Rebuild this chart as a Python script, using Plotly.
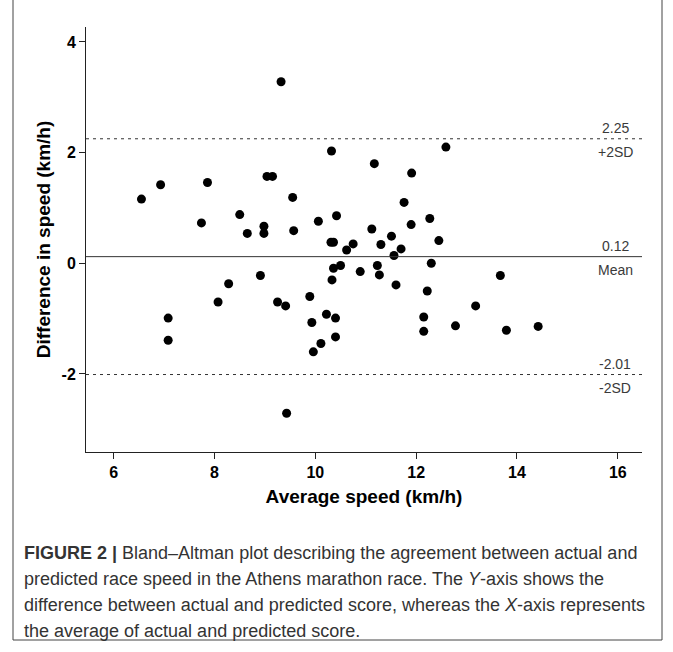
import plotly.graph_objects as go

# ---- data ----
avg_speed = [9.32, 9.04, 9.15, 6.93, 6.55, 7.86, 8.50, 7.74, 8.98, 8.65,
             8.98, 10.32, 11.17, 12.59, 11.91, 9.55, 11.76, 10.06, 10.42, 12.27,
             11.90, 9.57, 11.12, 11.51, 10.31, 10.36, 10.75, 10.62, 11.30, 11.70,
             11.56, 12.45, 10.36, 10.50, 10.89, 11.23, 11.27, 12.30, 10.33, 11.60,
             12.22, 9.25, 9.41, 9.89, 9.93, 10.22, 10.40, 10.40, 10.11, 9.96,
             12.15, 12.15, 12.78, 9.43, 8.28, 8.91, 8.07, 7.08, 7.08, 13.67,
             13.18, 13.79, 14.42]
diff_speed = [3.28, 1.57, 1.57, 1.42, 1.16, 1.46, 0.88, 0.73, 0.67, 0.54,
              0.54, 2.03, 1.80, 2.10, 1.63, 1.19, 1.10, 0.76, 0.86, 0.81,
              0.70, 0.59, 0.62, 0.49, 0.38, 0.38, 0.35, 0.24, 0.34, 0.26,
              0.14, 0.41, -0.09, -0.04, -0.15, -0.04, -0.21, 0.00, -0.30, -0.39,
              -0.50, -0.70, -0.77, -0.60, -1.07, -0.92, -0.99, -1.33, -1.45, -1.60,
              -0.97, -1.23, -1.13, -2.71, -0.37, -0.22, -0.70, -0.99, -1.39, -0.22,
              -0.77, -1.21, -1.14]
mean_diff = 0.12
upper_loa = 2.25
lower_loa = -2.01
ref_values = [upper_loa, mean_diff, lower_loa]
ref_names = ["+2SD", "Mean", "-2SD"]
ref_dash = ["3px,4px", "solid", "3px,4px"]
x_ticks = [6, 8, 10, 12, 14, 16]
y_ticks = [-2, 0, 2, 4]
caption_lines = [
    "<b>FIGURE 2 |</b> Bland–Altman plot describing the agreement between actual and",
    "predicted race speed in the Athens marathon race. The <i>Y</i>-axis shows the",
    "difference between actual and predicted score, whereas the <i>X</i>-axis represents",
    "the average of actual and predicted score.",
]

# ---- layout geometry (pixels) ----
W, H = 673, 652
ML, MR, MT, MB = 86, 31, 27, 200
PW, PH = W - ML - MR, H - MT - MB


def px_to_paper_x(px):
    return (px - ML) / PW


def px_to_paper_y(py):
    return (H - MB - py) / PH


AX_FONT = "Liberation Sans, Arial, sans-serif"

fig = go.Figure()
fig.add_trace(go.Scatter(
    x=avg_speed, y=diff_speed, mode="markers",
    marker=dict(color="black", size=9, line=dict(width=0)),
    showlegend=False, hoverinfo="x+y",
))

shapes = []
annotations = []
for val, name, dash in zip(ref_values, ref_names, ref_dash):
    shapes.append(dict(type="line", xref="paper", yref="y", x0=0, x1=1,
                       y0=val, y1=val,
                       line=dict(color="#333333", width=1, dash=dash)))
    annotations.append(dict(xref="paper", yref="y", x=px_to_paper_x(615), y=val,
                            text=f"{val:.2f}", showarrow=False,
                            xanchor="center", yanchor="bottom", yshift=1,
                            font=dict(family=AX_FONT, size=14, color="#3a3a3a")))
    annotations.append(dict(xref="paper", yref="y", x=px_to_paper_x(615), y=val,
                            text=name, showarrow=False,
                            xanchor="center", yanchor="top", yshift=-3,
                            font=dict(family=AX_FONT, size=14, color="#3a3a3a")))

# frame around figure + caption
frame_col = "#444444"
shapes.append(dict(type="line", xref="paper", yref="paper",
                   x0=px_to_paper_x(13), x1=px_to_paper_x(13),
                   y0=px_to_paper_y(-2), y1=px_to_paper_y(640),
                   line=dict(color=frame_col, width=1)))
shapes.append(dict(type="line", xref="paper", yref="paper",
                   x0=px_to_paper_x(662), x1=px_to_paper_x(662),
                   y0=px_to_paper_y(-2), y1=px_to_paper_y(640),
                   line=dict(color=frame_col, width=1)))
shapes.append(dict(type="line", xref="paper", yref="paper",
                   x0=px_to_paper_x(13), x1=px_to_paper_x(662),
                   y0=px_to_paper_y(640), y1=px_to_paper_y(640),
                   line=dict(color=frame_col, width=1)))

# caption
cap_y = [553, 579, 605, 631]
for line, yy in zip(caption_lines, cap_y):
    annotations.append(dict(xref="paper", yref="paper",
                            x=px_to_paper_x(22), y=px_to_paper_y(yy),
                            text=line, showarrow=False, xanchor="left", yanchor="middle",
                            font=dict(family=AX_FONT, size=18, color="#333333")))

fig.update_layout(
    width=W, height=H,
    margin=dict(l=ML, r=MR, t=MT, b=MB, autoexpand=False),
    paper_bgcolor="white", plot_bgcolor="white",
    shapes=shapes, annotations=annotations,
    xaxis=dict(range=[5.45, 16.48], tickvals=x_ticks, ticktext=[str(v) for v in x_ticks],
               automargin=False,
               showgrid=False, zeroline=False, showline=True, linecolor="#222222",
               linewidth=1, ticks="outside", ticklen=6, tickcolor="#222222",
               tickfont=dict(family=AX_FONT, size=16, color="black", weight="bold"),
               title=dict(text="Average speed (km/h)", standoff=9,
                          font=dict(family=AX_FONT, size=19, color="black", weight="bold"))),
    yaxis=dict(range=[-3.41, 4.27], tickvals=y_ticks, ticktext=[str(v) for v in y_ticks],
               automargin=False,
               showgrid=False, zeroline=False, showline=True, linecolor="#222222",
               linewidth=1, ticks="outside", ticklen=6, tickcolor="#222222",
               tickfont=dict(family=AX_FONT, size=16, color="black", weight="bold"),
               title=dict(text="Difference in speed (km/h)", standoff=5,
                          font=dict(family=AX_FONT, size=19, color="black", weight="bold"))),
)

fig.write_html("out.html", config={"displayModeBar": False},
               post_script="document.body.style.margin='0';")
